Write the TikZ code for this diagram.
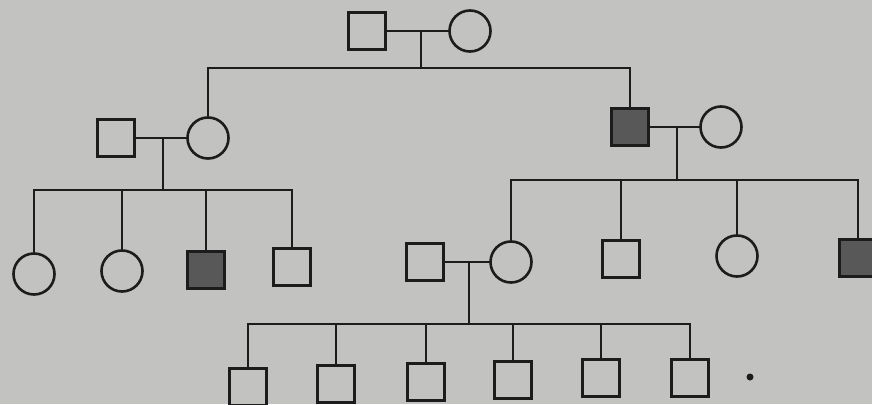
\documentclass[tikz,border=0pt]{standalone}
\definecolor{bgc}{RGB}{194,194,192}
\definecolor{linec}{RGB}{28,28,28}
\definecolor{shadec}{RGB}{88,88,88}
\begin{document}
\begin{tikzpicture}[x=1pt,y=-1pt,
  male/.style={draw=linec, line width=2.6pt, rectangle, minimum size=37pt, inner sep=0pt, outer sep=0pt},
  female/.style={draw=linec, line width=2.6pt, circle, minimum size=41pt, inner sep=0pt, outer sep=0pt},
  affected/.style={fill=shadec},
  link/.style={draw=linec, line width=2.6pt, line join=miter}]
\fill[bgc] (0,0) rectangle (872,404);
\useasboundingbox (0,0) rectangle (872,404);
\clip (0,0) rectangle (872,404);
% Generation I
\node[male] (g1m) at (367,31) {};
\node[female] (g1f) at (470,31) {};
\coordinate (s1) at (421,68);
\draw[link] (g1m.east) -- (g1f.west);
\draw[link] (s1 |- g1m.east) -- (s1);
% Generation II
\node[male] (g2h1) at (116,138) {};
\node[female] (g2w1) at (208,138) {};
\node[male, affected] (g2h2) at (630,127) {};
\node[female] (g2w2) at (721,127) {};
\draw[link] (g2w1.north) |- (s1) -| (g2h2.north);
\coordinate (s2) at (163,190);
\draw[link] (g2h1.east) -- (g2w1.west);
\draw[link] (s2 |- g2h1.east) -- (s2);
\coordinate (s3) at (677,180);
\draw[link] (g2h2.east) -- (g2w2.west);
\draw[link] (s3 |- g2h2.east) -- (s3);
% Generation III, left family
\node[female] (a1) at (34,274) {};
\node[female] (a2) at (122,271) {};
\node[male, affected] (a3) at (206,270) {};
\node[male] (a4) at (292,267) {};
\draw[link] (a1.north) |- (s2) -| (a4.north);
\draw[link] (a2.north) -- (a2.north |- s2);
\draw[link] (a3.north) -- (a3.north |- s2);
% Generation III, right family
\node[female] (b1) at (511,262) {};
\node[male] (b2) at (621,259) {};
\node[female] (b3) at (737,256) {};
\node[male, affected] (b4) at (858,258) {};
\draw[link] (b1.north) |- (s3) -| (b4.north);
\draw[link] (b2.north) -- (b2.north |- s3);
\draw[link] (b3.north) -- (b3.north |- s3);
% spouse of b1
\node[male] (sp) at (425,262) {};
\coordinate (s4) at (469,324);
\draw[link] (sp.east) -- (b1.west);
\draw[link] (s4 |- sp.east) -- (s4);
% Generation IV
\node[male] (c1) at (248,387) {};
\node[male] (c2) at (336,384) {};
\node[male] (c3) at (426,382) {};
\node[male] (c4) at (513,380) {};
\node[male] (c5) at (601,378) {};
\node[male] (c6) at (690,378) {};
\draw[link] (c1.north) |- (s4) -| (c6.north);
\draw[link] (c2.north) -- (c2.north |- s4);
\draw[link] (c3.north) -- (c3.north |- s4);
\draw[link] (c4.north) -- (c4.north |- s4);
\draw[link] (c5.north) -- (c5.north |- s4);
% speck
\node[circle, fill=linec, minimum size=7pt, inner sep=0pt] (speck) at (750,377) {};
\end{tikzpicture}
\end{document}
